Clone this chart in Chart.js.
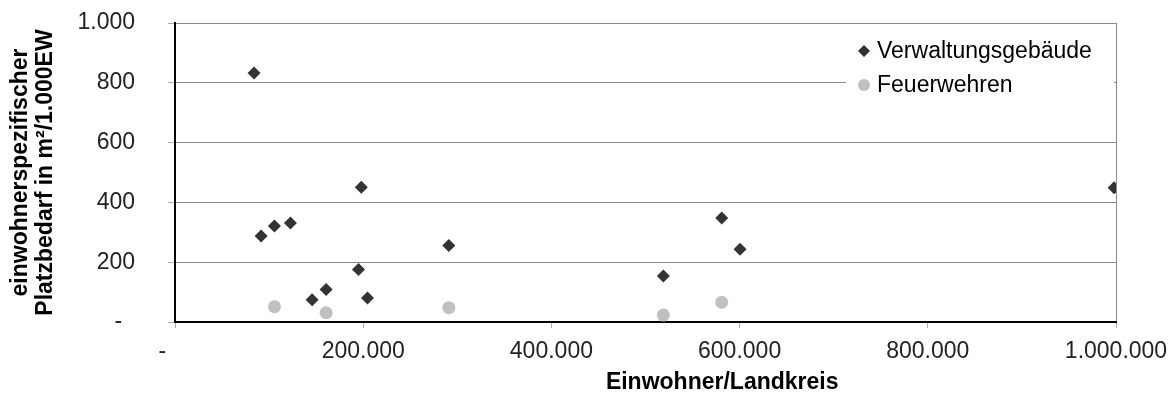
<!DOCTYPE html>
<html>
<head>
<meta charset="utf-8">
<script src="https://cdn.jsdelivr.net/npm/chart.js@4.4.1/dist/chart.umd.min.js"></script>
<style>
  html, body { margin: 0; padding: 0; background: #fff; }
  #wrap { width: 1169px; height: 394px; position: relative; }
</style>
</head>
<body>
<div id="wrap"><canvas id="myChart"></canvas></div>
<script>
// values
var verwaltungX = [84000, 198000, 91500, 105700, 122700, 291000, 195000, 160600, 145700, 204600, 998000, 581000, 600500, 519000];
var verwaltungY = [833, 451, 288, 321, 331, 256, 176, 109, 74, 80, 449, 348, 243, 154];
var feuerwehrX = [105700, 160600, 291000, 581000, 519000];
var feuerwehrY = [51, 31, 48, 66, 23];

var seriesNames = ['Verwaltungsgebäude', 'Feuerwehren'];
var xTickLabels = ['-\u00a0\u00a0\u00a0\u00a0', '200.000', '400.000', '600.000', '800.000', '1.000.000'];
var yTickLabels = ['-\u00a0\u00a0', '200', '400', '600', '800', '1.000'];
var xTitle = 'Einwohner/Landkreis';
var yTitle = ['einwohnerspezifischer', 'Platzbedarf in m²/1.000EW'];

function toPoints(xs, ys){
	var pts = [];
	for (var i = 0; i < xs.length; i++){
		pts.push({x: xs[i], y: ys[i]});
	};
	return pts;
}

var FONT = "'Liberation Sans', Arial, sans-serif";

// legend drawn inside the plot, on a white box (like the excel original)
var insideLegend = {
	id: 'insideLegend',
	afterDatasetsDraw: function(chart){
		var ctx = chart.ctx;
		var area = chart.chartArea;
		ctx.save();
		ctx.fillStyle = '#fff';
		ctx.fillRect(846, area.top + 3, area.right - 848, 90);
		ctx.font = '23px ' + FONT;
		ctx.textBaseline = 'middle';
		ctx.textAlign = 'left';
		var rows = [51, 85];
		chart.data.datasets.forEach(function(ds, i){
			var cx = 864, cy = rows[i];
			ctx.fillStyle = ds.backgroundColor;
			ctx.beginPath();
			if (ds.pointStyle === 'rectRot'){
				ctx.moveTo(cx - 6, cy);
				ctx.lineTo(cx, cy - 6);
				ctx.lineTo(cx + 6, cy);
				ctx.lineTo(cx, cy + 6);
				ctx.closePath();
			} else {
				ctx.arc(cx, cy, 6, 0, Math.PI * 2);
			}
			ctx.fill();
			ctx.fillStyle = '#000';
			ctx.fillText(ds.label, 877, cy + 1);
		});
		ctx.restore();
	}
};

var ctx = document.getElementById('myChart').getContext('2d');
var chart = new Chart(ctx, {
    type: 'scatter',
    data: {
        datasets: [{
            label: seriesNames[0],
            data: toPoints(verwaltungX, verwaltungY),
            pointStyle: 'rectRot',
            pointRadius: 6.5,
            borderWidth: 0,
            backgroundColor: '#333333',
            borderColor: '#333333'
        }, {
            label: seriesNames[1],
            data: toPoints(feuerwehrX, feuerwehrY),
            pointStyle: 'circle',
            pointRadius: 6.5,
            borderWidth: 0,
            backgroundColor: '#c0c0c0',
            borderColor: '#c0c0c0'
        }]
    },
    options: {
        responsive: true,
        maintainAspectRatio: false,
        animation: false,
        layout: { padding: { left: 0, top: 23, right: 53, bottom: 0 } },
        plugins: {
            legend: { display: false },
            tooltip: { enabled: false }
        },
        scales: {
            x: {
                type: 'linear',
                min: 0,
                max: 1000000,
                afterFit: function(scale){
                    scale.height = 72;
                    scale.paddingLeft = 0;
                    scale.paddingRight = 0;
                },
                border: { display: true, color: '#000', width: 2 },
                grid: {
                    color: function(c){ return c.tick && c.tick.value === 1000000 ? '#888' : 'rgba(0,0,0,0)'; },
                    tickColor: '#aaa',
                    tickLength: 6,
                    drawTicks: true
                },
                ticks: {
                    stepSize: 200000,
                    padding: 10,
                    maxRotation: 0,
                    color: '#222',
                    font: { family: FONT, size: 23 },
                    callback: function(v){ return xTickLabels[Math.round(v / 200000)]; }
                },
                title: {
                    display: true,
                    text: '\u00a0'.repeat(24) + xTitle,
                    color: '#000',
                    font: { family: FONT, size: 23, weight: 'bold', lineHeight: 1.05 },
                    padding: { top: 0, bottom: -1 }
                }
            },
            y: {
                type: 'linear',
                min: 0,
                max: 1000,
                afterFit: function(scale){
                    scale.width = 175;
                    scale.paddingTop = 0;
                    scale.paddingBottom = 0;
                },
                border: { display: true, color: '#000', width: 2 },
                grid: {
                    color: function(c){ return c.tick && c.tick.value === 0 ? 'rgba(0,0,0,0)' : '#888'; },
                    tickColor: '#aaa',
                    tickLength: 7
                },
                ticks: {
                    stepSize: 200,
                    padding: 33,
                    color: '#222',
                    font: { family: FONT, size: 23 },
                    callback: function(v){ return yTickLabels[Math.round(v / 200)]; }
                },
                title: {
                    display: true,
                    text: yTitle,
                    color: '#000',
                    font: { family: FONT, size: 23, weight: 'bold', lineHeight: 1.05 },
                    padding: { top: 9, bottom: 0 }
                }
            }
        }
    },
    plugins: [insideLegend]
});
</script>
</body>
</html>
